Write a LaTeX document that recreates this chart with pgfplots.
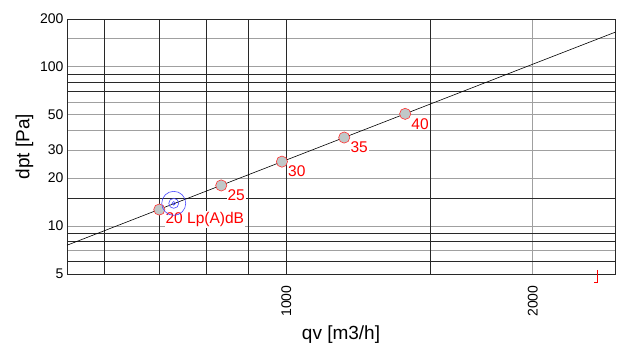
\documentclass[border=0pt]{standalone}
\usepackage{fontspec}
\setmainfont{Liberation Sans}
\usepackage{pgfplots}
\pgfplotsset{compat=1.18}
\definecolor{darkgrid}{RGB}{40,40,40}
\definecolor{lightgrid}{RGB}{160,160,160}
\definecolor{markfill}{RGB}{192,200,200}
\definecolor{tgtblue}{RGB}{70,70,255}
\begin{document}
\begin{tikzpicture}
\path[use as bounding box] (-67bp,-73bp) rectangle (551bp,274bp);
\begin{axis}[
  at={(0,0)}, anchor=south west,
  scale only axis, width=548bp, height=255bp,
  xmode=log, ymode=log,
  xmin=540, xmax=2520, ymin=5, ymax=200,
  clip=false,
  axis line style={darkgrid, line width=0.9bp},
  major tick length=0pt, minor tick length=0pt,
  xtick={2000}, xticklabels={2000},
  minor xtick={},
  extra x ticks={600,700,800,900,1000,1500},
  extra x tick labels={,,,,1000,},
  extra x tick style={major grid style={darkgrid, line width=0.8bp}},
  ytick={5,10,20,30,50,100,200}, yticklabels={5,10,20,30,50,100,200},
  minor ytick={7,40,60,150},
  extra y ticks={6,8,9,15,70,80,90},
  extra y tick labels={,,,,,,},
  extra y tick style={major grid style={darkgrid, line width=0.8bp}},
  xmajorgrids, ymajorgrids, yminorgrids,
  major grid style={lightgrid, line width=0.9bp},
  minor grid style={lightgrid, line width=0.9bp},
  tick label style={font=\fontsize{14bp}{16bp}\selectfont, text=black},
  x tick label style={rotate=90, anchor=east},
  xticklabel shift=8bp,
  xlabel={qv [m3/h]}, ylabel={dpt [Pa]},
  label style={font=\fontsize{19bp}{21bp}\selectfont},
  xlabel style={at={(axis description cs:0.5,-0.239)}, anchor=center},
  ylabel style={at={(axis description cs:-0.0776,0.5)}, anchor=center},
]
\addplot[black, line width=0.6bp] coordinates {(540,7.58) (700,12.74) (1000,26.0) (1500,58.5) (2000,104) (2520,165.1)};
\addplot[only marks, mark=*, mark size=5.6bp, mark options={fill=markfill, draw=red!80, line width=0.6bp},
  point meta=explicit symbolic, nodes near coords,
  nodes near coords style={anchor=west, xshift=5bp, yshift=-10bp, fill=white, inner sep=1bp, text=red, font=\fontsize{15.5bp}{17bp}\selectfont}]
  coordinates {(700,12.7) [20 Lp(A)dB] (833,18.0) [25] (988,25.4) [30] (1177,36.0) [35] (1397,50.7) [40]};
\addplot[only marks, mark=o, mark size=12bp, tgtblue, mark options={line width=0.6bp}] coordinates {(729,13.9)};
\addplot[only marks, mark=o, mark size=5bp, tgtblue, mark options={line width=0.6bp}] coordinates {(729,13.9)};
\addplot[only marks, mark=o, mark size=1.8bp, tgtblue, mark options={line width=0.6bp}] coordinates {(729,13.9)};
\draw[red, line width=0.8bp] (axis cs:2396,5.3) -- (axis cs:2396,4.45) -- (axis cs:2376,4.45);
\end{axis}
\end{tikzpicture}
\end{document}
